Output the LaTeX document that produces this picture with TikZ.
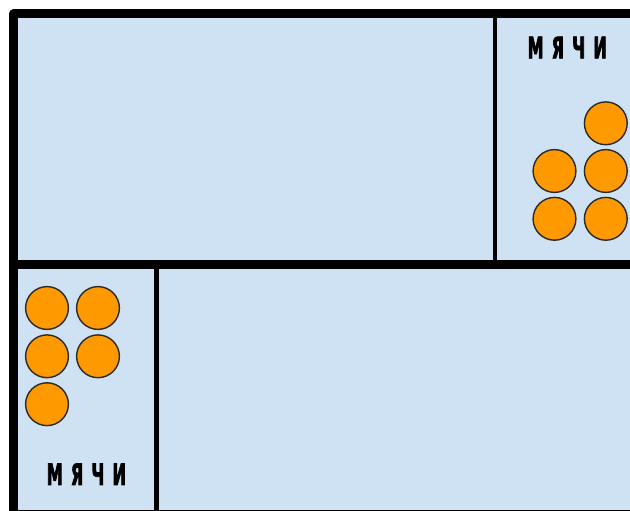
\documentclass[tikz,border=0pt]{standalone}
\usepackage{fontspec}
\usepackage{tikz}
\usepackage{xcolor}
\newfontfamily\ballfont[FakeStretch=0.6,FakeBold=2.2,LetterSpace=28]{DejaVu Sans Condensed Bold}
\definecolor{Pitch}{HTML}{CFE2F3}
\definecolor{Ball}{HTML}{FF9900}
\definecolor{Rim}{HTML}{2A2A2A}
\newcommand{\ball}[2]{
  \draw[fill=Ball, draw=Rim, line width=1.4pt] (#1,#2) circle (21.4);
}
\tikzset{
  label text/.style={font=\ballfont\fontsize{29.5}{30}\selectfont, inner sep=0pt}
}

\begin{document}
\begin{tikzpicture}[x=1pt, y=-1pt]
    \useasboundingbox (0,0) rectangle (630,511);
    \clip (0,0) rectangle (630,511);
    % hall outline
    \draw[fill=Pitch, line width=9pt, line join=round] (13.5,14) rectangle (680,514);
    \draw[line width=9pt] (13.5,264) -- (680,264);
    \draw[line width=4.6pt] (495,14) -- (495,264);
    \draw[line width=5pt] (156,264) -- (156,514);
    % balls, upper corner
    \ball{605.8}{123.3}
    \ball{554.5}{171}
    \ball{605.8}{171}
    \ball{554.5}{218.8}
    \ball{605.8}{218.8}
    % balls, lower corner
    \ball{47}{308}
    \ball{98}{308}
    \ball{47}{356.3}
    \ball{98}{356.3}
    \ball{47}{404.2}
    \node[label text] (upperlabel) at (567.2,47.5) {МЯЧИ};
    \node[label text] (lowerlabel) at (86.4,474.2) {МЯЧИ};
  \end{tikzpicture}
\end{document}
